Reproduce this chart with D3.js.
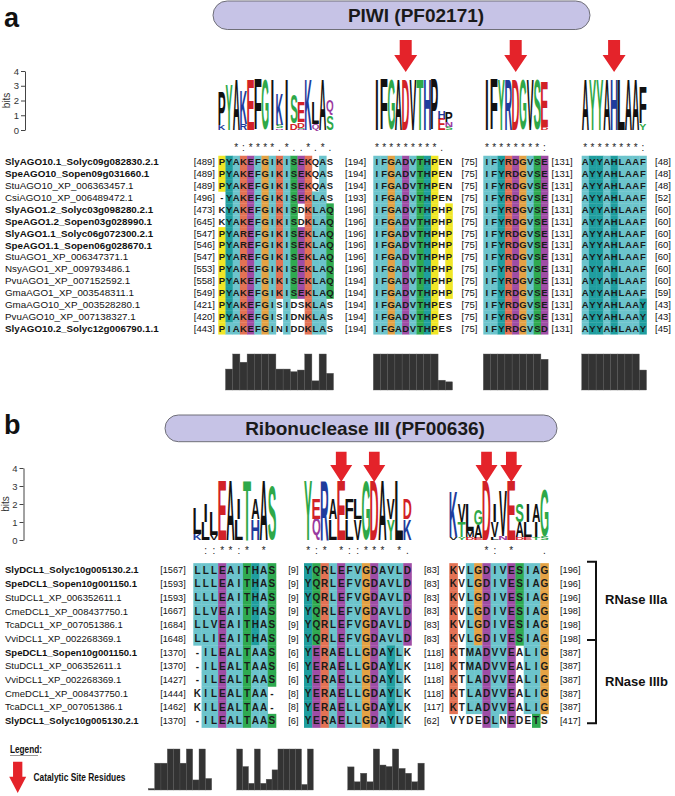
<!DOCTYPE html>
<html>
<head>
<meta charset="utf-8">
<script src="https://cdn.jsdelivr.net/npm/d3@7/dist/d3.min.js"></script>
<style>
  body { margin: 0; background: #fff; }
  svg text { font-family: "Liberation Sans", Arial, sans-serif; }
</style>
</head>
<body>
<div id="chart"></div>
<script>
// ---- panel a : PIWI domain of AGO proteins ----
var agoNames = [
  "SlyAGO10.1_Solyc09g082830.2.1", "SpeAGO10_Sopen09g031660.1", "StuAGO10_XP_006363457.1",
  "CsiAGO10_XP_006489472.1", "SlyAGO1.2_Solyc03g098280.2.1", "SpeAGO1.2_Sopen03g028990.1",
  "SlyAGO1.1_Solyc06g072300.2.1", "SpeAGO1.1_Sopen06g028670.1", "StuAGO1_XP_006347371.1",
  "NsyAGO1_XP_009793486.1", "PvuAGO1_XP_007152592.1", "GmaAGO1_XP_003548311.1",
  "GmaAGO10_XP_003528280.1", "PvuAGO10_XP_007138327.1", "SlyAGO10.2_Solyc12g006790.1.1"
];
var agoStart = [489, 489, 489, 496, 473, 645, 547, 546, 547, 553, 558, 549, 421, 420, 443];
var agoGaps = [
  [194, 194, 194, 193, 196, 196, 196, 196, 196, 196, 194, 194, 194, 194, 194],
  [75, 75, 75, 75, 75, 75, 75, 75, 75, 75, 75, 75, 75, 75, 75],
  [131, 131, 131, 131, 131, 131, 131, 131, 131, 131, 131, 131, 131, 131, 131]
];
var agoEnd = [48, 48, 48, 52, 60, 60, 60, 60, 60, 60, 60, 59, 43, 43, 45];

var agoSeq1 = ["PYAKEFGIKISEKQAS", "PYAKEFGIKISEKQAS", "PYAKEFGIKISEKQAS", "-YAKEFGIKISEKLAS",
  "KYAKEFGIKISDKLAQ", "KYAKEFGIKISDKLAQ", "PYAREFGIKISEKLAQ", "PYAREFGIKISEKLAQ",
  "PYAREFGIKISEKLAQ", "PYAKEFGIKISEKLAQ", "PYAKEFGIKISEKLAQ", "PYAKEFGIKISEKLAQ",
  "PYAKEFGISIDSKLAS", "PYAKEFGISIDNKLAS", "PIAKEFGINIDDKLAS"];
var agoSeq2 = ["IFGADVTHPEN", "IFGADVTHPEN", "IFGADVTHPEN", "IFGADVTHPEN",
  "IFGADVTHPHP", "IFGADVTHPHP", "IFGADVTHPHP", "IFGADVTHPHP", "IFGADVTHPHP",
  "IFGADVTHPHP", "IFGADVTHPHP", "IFGADVTHPHP", "IFGADVTHPES", "IFGADVTHPES", "IFGADVTHPES"];
var agoSeq3 = ["IFYRDGVSE", "IFYRDGVSE", "IFYRDGVSE", "IFYRDGVSE", "IFYRDGVSE", "IFYRDGVSE",
  "IFYRDGVSE", "IFYRDGVSE", "IFYRDGVSE", "IFYRDGVSE", "IFYRDGVSE", "IFYRDGVSE",
  "IFYRDGVSE", "IFYRDGVSE", "IFYRDGVSD"];
var agoSeq4 = ["AYYAHLAAF", "AYYAHLAAF", "AYYAHLAAF", "AYYAHLAAF", "AYYAHLAAF", "AYYAHLAAF",
  "AYYAHLAAF", "AYYAHLAAF", "AYYAHLAAF", "AYYAHLAAF", "AYYAHLAAF", "AYYAHLAAF",
  "AYYAHLAAY", "AYYAHLAAY", "AYYAHLAAY"];

// which residues are shaded (x) in the Clustal colouring
var agoMask1 = ["xxxxxxxxxxxxx.x.", "xxxxxxxxxxxxx.x.", "xxxxxxxxxxxxx.x.", ".xxxxxxxxxxxxxx.",
  ".xxxxxxxxxx.xxxx", ".xxxxxxxxxx.xxxx", "xxxxxxxxxxxxxxxx", "xxxxxxxxxxxxxxxx",
  "xxxxxxxxxxxxxxxx", "xxxxxxxxxxxxxxxx", "xxxxxxxxxxxxxxxx", "xxxxxxxxxxxxxxxx",
  "xxxxxxxx.x..xxx.", "xxxxxxxx.x..xxx.", "xxxxxxxx.x..xxx."];
var agoMask2 = ["xxxxxxxxx..", "xxxxxxxxx..", "xxxxxxxxx..", "xxxxxxxxx..",
  "xxxxxxxxx.x", "xxxxxxxxx.x", "xxxxxxxxx.x", "xxxxxxxxx.x", "xxxxxxxxx.x",
  "xxxxxxxxx.x", "xxxxxxxxx.x", "xxxxxxxxx.x", "xxxxxxxxx..", "xxxxxxxxx..", "xxxxxxxxx.."];

var agoCons = ["  *:****.*..*.*.", "*********. ", "********:", "********:"];

// sequence logo, letters from bottom to top, in bits
var agoLogo = [
  [[["K", 0.3], ["P", 2.3]], [["Y", 3.0]], [["A", 3.4]], [["R", 0.4], ["K", 2.3]], [["E", 3.4]],
   [["F", 3.4]], [["G", 3.4]], [["I", 3.4]], [["N", 0.1], ["S", 0.25], ["K", 2.1]], [["I", 3.4]],
   [["D", 0.45], ["S", 2.0]], [["N", 0.08], ["S", 0.08], ["D", 0.35], ["E", 1.4]], [["K", 3.4]],
   [["Q", 0.4], ["L", 1.5]], [["A", 3.4]], [["S", 1.0], ["Q", 1.0]]],
  [[["I", 3.4]], [["F", 3.4]], [["G", 3.4]], [["A", 3.4]], [["D", 3.4]], [["V", 3.4]],
   [["T", 3.4]], [["H", 3.4]], [["P", 3.4]], [["E", 0.75], ["H", 0.5]], [["S", 0.22], ["N", 0.32], ["P", 0.7]]],
  [[["I", 3.4]], [["F", 3.4]], [["Y", 3.4]], [["R", 3.4]], [["D", 3.4]], [["G", 3.4]],
   [["V", 3.4]], [["S", 3.4]], [["D", 0.2], ["E", 3.0]]],
  [[["A", 3.4]], [["Y", 3.4]], [["Y", 3.4]], [["A", 3.4]], [["H", 3.4]], [["L", 3.4]],
   [["A", 3.4]], [["A", 3.4]], [["Y", 0.45], ["F", 2.5]]]
];

// conservation score per column (0-11)
var agoQual = [
  [0, 6.4, 11, 8.5, 11, 11, 11, 11, 6.4, 6.4, 5.6, 6.1, 11, 2.8, 11, 5.1],
  [11, 11, 11, 11, 11, 11, 11, 11, 11, 3, 2.5],
  [11, 11, 11, 11, 11, 11, 11, 11, 9.4],
  [11, 11, 11, 11, 11, 11, 11, 11, 6.1]
];
// catalytic residues: [block, column]
var agoArrows = [[1, 4], [2, 4], [3, 4]];

// ---- panel b : Ribonuclease III domains of DCL1 ----
var dclNames = [
  "SlyDCL1_Solyc10g005130.2.1", "SpeDCL1_Sopen10g001150.1", "StuDCL1_XP_006352611.1",
  "CmeDCL1_XP_008437750.1", "TcaDCL1_XP_007051386.1", "VviDCL1_XP_002268369.1",
  "SpeDCL1_Sopen10g001150.1", "StuDCL1_XP_006352611.1", "VviDCL1_XP_002268369.1",
  "CmeDCL1_XP_008437750.1", "TcaDCL1_XP_007051386.1", "SlyDCL1_Solyc10g005130.2.1"
];
var dclStart = [1567, 1593, 1593, 1667, 1684, 1648, 1370, 1370, 1427, 1444, 1462, 1370];
var dclGaps = [
  [9, 9, 9, 9, 9, 9, 6, 6, 6, 8, 8, 6],
  [83, 83, 83, 83, 83, 83, 118, 118, 118, 118, 117, 62]
];
var dclEnd = [196, 196, 196, 198, 198, 198, 387, 387, 387, 387, 387, 417];

var dclSeq1 = ["LLLEAITHAS", "LLLEAITHAS", "LLLEAITHAS", "LLVEAITHAS", "LLVEAITHAS", "LLIEAITHAS",
  "-ILEALTAAS", "-ILEALTAAS", "-ILEALTAAS", "KILEALTAA-", "KILEALTAA-", "-ILEALTAAS"];
var dclSeq2 = ["YQRLEFVGDAVLD", "YQRLEFVGDAVLD", "YQRLEFVGDAVLD", "YQRLEFVGDAVLD",
  "YQRLEFVGDAVLD", "YQRLEFVGDAVLD", "YERAELLGDAYLK", "YERAELLGDAYLK", "YERAELLGDAYLK",
  "YERAELLGDAYLK", "YERAELLGDAYLK", "YERAELLGDAYLK"];
var dclSeq3 = ["KVLGDIVESIAG", "KVLGDIVESIAG", "KVLGDIVESIAG", "KVLGDIVESIAG", "KVLGDIVESIAG",
  "KVLGDIVESIAG", "KTMADVVEALIG", "KTMADVVEALIG", "KTLADVVEALIG", "KTLADVVEALIG",
  "KTLADVVEALIG", "VYDEDLNEDETS"];

var dclMask1 = ["xxxxxxxxxx", "xxxxxxxxxx", "xxxxxxxxxx", "xxxxxxxxxx", "xxxxxxxxxx", "xxxxxxxxxx",
  ".xxxxxxxxx", ".xxxxxxxxx", ".xxxxxxxxx", ".xxxxxxxx.", ".xxxxxxxx.", ".xxxxxxxxx"];
var dclMask2 = ["xxxxxxxxxxxxx", "xxxxxxxxxxxxx", "xxxxxxxxxxxxx", "xxxxxxxxxxxxx", "xxxxxxxxxxxxx",
  "xxxxxxxxxxxxx", "xxxxxxxxxxxx.", "xxxxxxxxxxxx.", "xxxxxxxxxxxx.", "xxxxxxxxxxxx.",
  "xxxxxxxxxxxx.", "xxxxxxxxxxxx."];
var dclMask3 = ["x.xxxxxxxxxx", "x.xxxxxxxxxx", "x.xxxxxxxxxx", "x.xxxxxxxxxx", "x.xxxxxxxxxx",
  "x.xxxxxxxxxx", "x.xxxxxx.xxx", "x.xxxxxx.xxx", "x.xxxxxx.xxx", "x.xxxxxx.xxx",
  "x.xxxxxx.xxx", "....xx.x..x."];

var dclCons = [" ::**:* * ", "*:* *::*** *.", "    *: *   ."];

var dclLogo = [
  [[["K", 0.35], ["L", 1.4]], [["L", 1.0], ["I", 1.0]], [["V", 0.3], ["L", 1.3]], [["E", 3.3]],
   [["A", 3.3]], [["L", 1.15], ["I", 1.15]], [["T", 3.3]], [["H", 1.15], ["A", 1.15]],
   [["A", 3.3]], [["S", 3.0]]],
  [[["Y", 3.3]], [["Q", 1.15], ["E", 1.15]], [["R", 3.3]], [["L", 1.15], ["A", 1.15]], [["E", 3.3]],
   [["L", 1.15], ["F", 1.15]], [["V", 1.15], ["L", 1.15]], [["G", 3.3]], [["D", 3.3]], [["A", 3.3]],
   [["Y", 1.15], ["V", 1.15]], [["L", 3.3]], [["K", 1.15], ["D", 1.15]]],
  [[["V", 0.15], ["K", 2.5]], [["Y", 0.15], ["T", 0.85], ["V", 1.0]], [["D", 0.15], ["M", 0.35], ["L", 1.5]],
   [["E", 0.1], ["A", 0.7], ["G", 0.9]], [["D", 3.3]], [["L", 0.15], ["V", 0.85], ["I", 1.0]],
   [["N", 0.24], ["V", 2.5]], [["E", 3.3]], [["D", 0.15], ["A", 0.85], ["S", 1.0]],
   [["E", 0.15], ["L", 0.85], ["I", 1.0]], [["T", 0.15], ["I", 0.85], ["A", 1.0]], [["S", 0.2], ["G", 2.6]]]
];

var dclQual = [
  [0.4, 7.2, 7.2, 11, 11, 7.2, 11, 2.7, 11, 3.1],
  [11, 6.3, 1.8, 11, 1.8, 2.9, 5.4, 11, 11, 11, 11, 1.5, 11],
  [6.2, 2.2, 4.5, 2.2, 11, 6.7, 6.3, 11, 5.8, 4.5, 2.2, 7.2]
];
var dclArrows = [[1, 4], [1, 8], [2, 4], [2, 7]];

// ---------------------------------------------------------------
var svg = d3.select("#chart").append("svg")
  .attr("width", 675)
  .attr("height", 796);

// Clustal-like residue shading
var groupOf = { A: "h", I: "h", L: "h", M: "h", F: "h", V: "h", W: "h", Y: "a", H: "a",
  K: "k", R: "k", D: "e", E: "e", G: "g", P: "p", S: "s", T: "s", N: "s", Q: "s", C: "c" };
var shade = d3.scaleOrdinal()
  .domain(["h", "a", "k", "e", "g", "p", "s", "c"])
  .range(["#6cc4cc", "#1f9e9f", "#e37254", "#9f4da5", "#e4a244", "#f0e626", "#2faa50", "#f08080"]);

// weblogo letter colours
var logoClass = { G: "pol", S: "pol", T: "pol", Y: "pol", C: "pol", N: "neu", Q: "neu",
  K: "bas", R: "bas", H: "bas", D: "aci", E: "aci" };
var logoColor = d3.scaleOrdinal()
  .domain(["pol", "neu", "bas", "aci", "hyd"])
  .range(["#2ea848", "#9b3a9f", "#1f3c9c", "#d22127", "#111111"]);

// ink box of letters, to stretch them into logo cells
var ctx = document.createElement("canvas").getContext("2d");
ctx.font = "bold 100px 'Liberation Sans'";
var inkCache = {};
function ink(L) {
  if (!inkCache[L]) {
    var m = ctx.measureText(L);
    inkCache[L] = { l: m.actualBoundingBoxLeft, r: m.actualBoundingBoxRight,
                    a: m.actualBoundingBoxAscent, d: m.actualBoundingBoxDescent };
  }
  return inkCache[L];
}

function arrowPath(cx, a) {
  return "M" + (cx - a.shaft / 2) + "," + a.top + "H" + (cx + a.shaft / 2) + "V" + a.head +
    "H" + (cx + a.w / 2) + "L" + cx + "," + a.tip + "L" + (cx - a.w / 2) + "," + a.head +
    "H" + (cx - a.shaft / 2) + "Z";
}

function drawPanel(p) {
  var g = svg.append("g");
  var nRows = p.names.length;
  var ys = d3.scaleBand().domain(d3.range(nRows)).range([p.rowTop, p.rowTop + nRows * p.rowH]);
  var mid = function(i) { return ys(i) + ys.bandwidth() / 2; };
  var xs = p.seqs.map(function(blk, b) {
    var n = blk[0].length;
    return d3.scaleBand().domain(d3.range(n)).range([p.blockX[b], p.blockX[b] + n * p.colW]);
  });

  // sequence names
  g.append("g").selectAll("text").data(p.names).join("text")
    .attr("x", 5)
    .attr("y", function(d, i) { return mid(i) + p.nameSize * 0.36; })
    .attr("font-size", p.nameSize)
    .attr("font-weight", function(d) { return /^(Sly|Spe)/.test(d) ? "bold" : "normal"; })
    .attr("fill", "#111")
    .text(function(d) { return d; });

  // position numbers
  var num = function(vals, x, anchor) {
    g.append("g").selectAll("text").data(vals).join("text")
      .attr("x", x)
      .attr("y", function(d, i) { return mid(i) + p.numSize * 0.36; })
      .attr("text-anchor", anchor)
      .attr("font-size", p.numSize)
      .attr("fill", "#111")
      .text(function(d) { return "[" + d + "]"; });
  };
  num(p.starts, p.startX, "end");
  p.gaps.forEach(function(vals, k) { num(vals, p.gapX[k], "start"); });
  num(p.ends, p.endX, "start");

  // alignment blocks
  p.seqs.forEach(function(blk, b) {
    var cells = [];
    blk.forEach(function(s, i) {
      s.split("").forEach(function(c, j) {
        var m = p.masks[b] ? p.masks[b][i][j] : "x";
        cells.push({ i: i, j: j, c: c, on: m === "x" && c !== "-" });
      });
    });
    var bg = g.append("g");
    bg.selectAll("rect").data(cells.filter(function(d) { return d.on; })).join("rect")
      .attr("x", function(d) { return xs[b](d.j); })
      .attr("y", function(d) { return ys(d.i); })
      .attr("width", xs[b].bandwidth() + 0.3)
      .attr("height", ys.bandwidth() + 0.3)
      .attr("fill", function(d) { return shade(groupOf[d.c]); });
    bg.selectAll("text").data(cells).join("text")
      .attr("x", function(d) { return xs[b](d.j) + xs[b].bandwidth() / 2; })
      .attr("y", function(d) { return mid(d.i) + p.resSize * 0.36; })
      .attr("text-anchor", "middle")
      .attr("font-size", p.resSize)
      .attr("font-weight", "bold")
      .attr("fill", "#1a1a1a")
      .text(function(d) { return d.c; });

    // clustal conservation symbols
    g.append("g").selectAll("text").data(p.cons[b].split("")).join("text")
      .attr("x", function(d, j) { return xs[b](j) + xs[b].bandwidth() / 2; })
      .attr("y", p.consY)
      .attr("text-anchor", "middle")
      .attr("font-size", 10)
      .attr("fill", "#222")
      .text(function(d) { return d.trim(); });
  });

  // sequence logo
  var yb = d3.scaleLinear().domain([0, 4]).range([p.logoBase, p.logoBase - 4 * p.bitPx]);
  g.append("g")
    .attr("transform", "translate(" + p.axisX + ",0)")
    .call(d3.axisLeft(yb).tickValues([0, 1, 2, 3, 4]).tickFormat(d3.format("d"))
      .tickSize(4).tickSizeOuter(0).tickPadding(2))
    .call(function(ax) {
      ax.attr("font-family", null);
      ax.select(".domain").attr("stroke", "#444");
      ax.selectAll("line").attr("stroke", "#444");
      ax.selectAll("text").attr("font-size", 9.5).attr("fill", "#333");
    });
  g.append("text")
    .attr("transform", "translate(" + (p.axisX - 15) + "," + yb(2) + ") rotate(-90)")
    .attr("text-anchor", "middle")
    .attr("font-size", 10)
    .attr("fill", "#333")
    .text("bits");

  p.logos.forEach(function(cols, b) {
    cols.forEach(function(stack, j) {
      var acc = 0;
      stack.forEach(function(s) {
        var L = s[0], v = s[1];
        var y1 = yb(acc + v), y0 = yb(acc);
        acc += v;
        var h = y0 - y1;
        if (h < 0.5) return;
        var cw = xs[b].bandwidth();
        var w = L === "I" ? cw * 0.3 : cw * 0.96;
        var x = xs[b](j) + (cw - w) / 2;
        var m = ink(L);
        g.append("text")
          .attr("font-size", 100)
          .attr("font-weight", "bold")
          .attr("x", m.l)
          .attr("y", m.a)
          .attr("fill", logoColor(logoClass[L] || "hyd"))
          .attr("transform", "translate(" + x + "," + y1 + ") scale(" +
            (w / (m.l + m.r)) + "," + (h / (m.a + m.d)) + ")")
          .text(L);
      });
    });
  });

  // conservation histogram
  var yq = d3.scaleLinear().domain([0, 11]).range([p.barBase, p.barBase - p.barMax]);
  p.qual.forEach(function(vals, b) {
    var r = p.barRange ? p.barRange[b] : xs[b].range();
    var xq = d3.scaleBand().domain(d3.range(vals.length)).range(r);
    g.append("g").selectAll("rect").data(vals).join("rect")
      .attr("x", function(d, j) { return xq(j); })
      .attr("y", function(d) { return yq(d); })
      .attr("width", xq.bandwidth())
      .attr("height", function(d) { return p.barBase - yq(d); })
      .attr("fill", "#333")
      .attr("stroke", "#575757")
      .attr("stroke-width", 0.4);
  });

  // catalytic site arrows
  p.arrows.forEach(function(a) {
    var cx = xs[a[0]](a[1]) + xs[a[0]].bandwidth() / 2;
    g.append("path").attr("d", arrowPath(cx, p.arrow)).attr("fill", "#e4232a");
  });

  // domain title pill
  g.append("rect")
    .attr("x", p.pill[0]).attr("y", p.pill[1])
    .attr("width", p.pill[2] - p.pill[0]).attr("height", p.pill[3] - p.pill[1])
    .attr("rx", (p.pill[3] - p.pill[1]) / 2)
    .attr("fill", "#c6c3e6").attr("stroke", "#6f6f78").attr("stroke-width", 1);
  g.append("text")
    .attr("x", p.titleX).attr("y", (p.pill[1] + p.pill[3]) / 2 + 6.5)
    .attr("text-anchor", "middle")
    .attr("font-size", 19)
    .attr("font-weight", "bold")
    .attr("fill", "#1a1a1a")
    .text(p.title);

  g.append("text")
    .attr("x", 4).attr("y", p.labelY)
    .attr("font-size", 27).attr("font-weight", "bold").attr("fill", "#111")
    .text(p.label);
}

drawPanel({
  label: "a", labelY: 27, title: "PIWI (PF02171)", pill: [213, 1, 590, 29.5], titleX: 416,
  names: agoNames, starts: agoStart, gaps: agoGaps, ends: agoEnd,
  seqs: [agoSeq1, agoSeq2, agoSeq3, agoSeq4], masks: [agoMask1, agoMask2, null, null],
  cons: agoCons, logos: agoLogo, qual: agoQual, arrows: agoArrows,
  blockX: [218.3, 373.3, 483.3, 581.7], colW: 7.2,
  rowTop: 155.75, rowH: 11.9,
  nameSize: 9.8, resSize: 9.5, numSize: 9.5,
  startX: 215, gapX: [345, 461.5, 551.5], endX: 655,
  consY: 151,
  logoBase: 130, bitPx: 14.75, axisX: 25,
  barBase: 390, barMax: 36, barRange: null,
  arrow: { top: 40, head: 55, tip: 72, w: 23, shaft: 12 }
});

drawPanel({
  label: "b", labelY: 434, title: "Ribonuclease III (PF00636)", pill: [165, 415, 557, 441.7], titleX: 365,
  names: dclNames, starts: dclStart, gaps: dclGaps, ends: dclEnd,
  seqs: [dclSeq1, dclSeq2, dclSeq3], masks: [dclMask1, dclMask2, dclMask3],
  cons: dclCons, logos: dclLogo, qual: dclQual, arrows: dclArrows,
  blockX: [193.3, 304, 449.3], colW: 8.27,
  rowTop: 563.15, rowH: 13.7,
  nameSize: 9.5, resSize: 10, numSize: 9.2,
  startX: 185.7, gapX: [288.3, 424], endX: 560,
  consY: 554,
  logoBase: 540, bitPx: 18, axisX: 23.5,
  barBase: 790, barMax: 41, barRange: [[148.3, 211.7], [236.7, 313.3], [347.7, 424.3]],
  arrow: { top: 451.7, head: 465, tip: 482, w: 22, shaft: 10.7 }
});

// RNase IIIa / IIIb bracket
svg.append("path")
  .attr("d", "M587,561.7H596V723.3H587M587,640H596")
  .attr("fill", "none").attr("stroke", "#111").attr("stroke-width", 2);
svg.append("text").attr("x", 605).attr("y", 604).attr("font-size", 13)
  .attr("font-weight", "bold").attr("fill", "#111").text("RNase IIIa");
svg.append("text").attr("x", 605).attr("y", 686).attr("font-size", 13)
  .attr("font-weight", "bold").attr("fill", "#111").text("RNase IIIb");

// legend
var leg = svg.append("g");
var legT = leg.append("text").attr("x", 10).attr("y", 753).attr("font-size", 11)
  .attr("font-weight", "bold").attr("fill", "#111")
  .attr("textLength", 32).attr("lengthAdjust", "spacingAndGlyphs");
legT.append("tspan").text("Legend");
legT.append("tspan").text(":");
leg.append("line").attr("x1", 10).attr("x2", 38).attr("y1", 755.5).attr("y2", 755.5)
  .attr("stroke", "#999").attr("stroke-width", 1);
leg.append("path")
  .attr("d", arrowPath(17.7, { top: 761.7, head: 776.7, tip: 793, w: 17, shaft: 9.3 }))
  .attr("fill", "#e4232a");
leg.append("text").attr("x", 33.5).attr("y", 781).attr("font-size", 11)
  .attr("font-weight", "bold").attr("fill", "#111")
  .attr("textLength", 92).attr("lengthAdjust", "spacingAndGlyphs")
  .text("Catalytic Site Residues");
</script>
</body>
</html>
